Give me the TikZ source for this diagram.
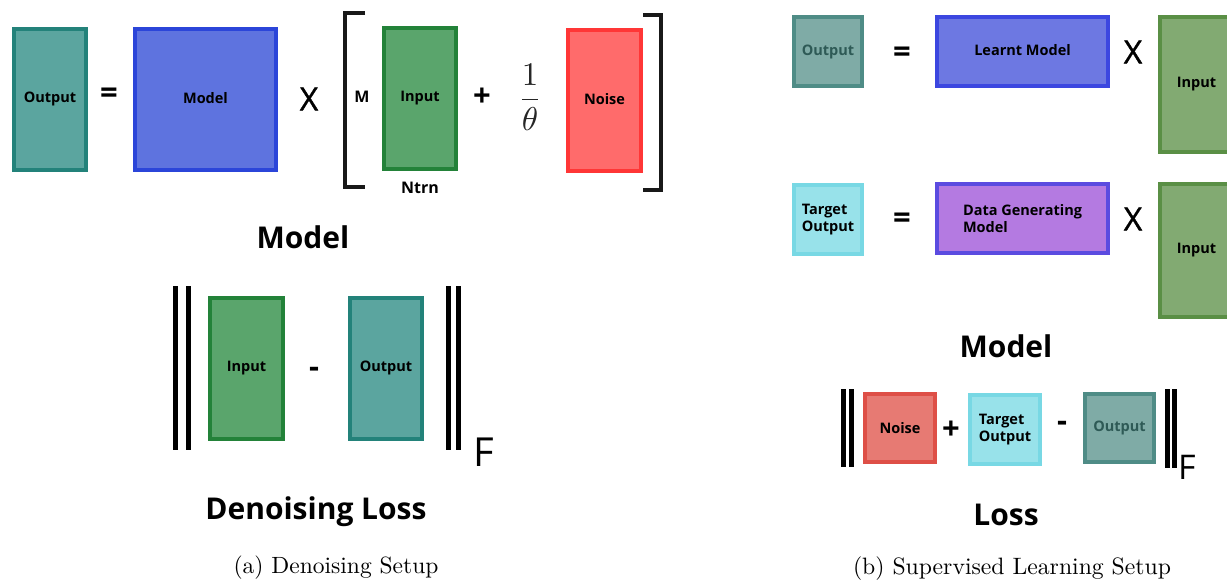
\documentclass[tikz,border=0pt]{standalone}
\usepackage{fontspec}
\usepackage{graphicx}
\newfontfamily\os{Open Sans}
\newfontfamily\osm[FakeBold=1.2]{Open Sans}
\definecolor{tealF}{HTML}{5BA59F}\definecolor{tealD}{HTML}{23827A}
\definecolor{blueF}{HTML}{5E73DF}\definecolor{blueD}{HTML}{2B45D9}
\definecolor{grnF}{HTML}{5AA56C}\definecolor{grnD}{HTML}{238239}
\definecolor{redF}{HTML}{FF6B6B}\definecolor{redD}{HTML}{FF3636}
\definecolor{gtealF}{HTML}{7FABA6}\definecolor{gtealD}{HTML}{4F8C86}\definecolor{gtealT}{HTML}{2E5A56}
\definecolor{lblueF}{HTML}{6D78E2}\definecolor{lblueD}{HTML}{3C47E0}
\definecolor{olivF}{HTML}{82AA72}\definecolor{olivD}{HTML}{5A8F45}
\definecolor{cyanF}{HTML}{98E2EA}\definecolor{cyanD}{HTML}{78D8E4}
\definecolor{purpF}{HTML}{B47AE1}\definecolor{purpD}{HTML}{5B4BE0}
\definecolor{salF}{HTML}{E77A73}\definecolor{salD}{HTML}{DE4F47}
\tikzset{
  box/.style={draw, line width=4pt, inner sep=0pt, align=center,
    font=\os\bfseries\fontsize{14.5}{16.5}\selectfont},
  symtxt/.style={inner sep=0pt, font=\os\bfseries\fontsize{31}{32}\selectfont},
  xtxt/.style={inner sep=0pt, font=\osm\fontsize{32}{32}\selectfont},
  titletxt/.style={inner sep=0pt, font=\os\bfseries\fontsize{30}{32}\selectfont},
  captxt/.style={inner sep=0pt},
  smalltxt/.style={inner sep=0pt, font=\os\bfseries\fontsize{16}{18}\selectfont},
  normbar/.style={line width=5pt, black},
  brk/.style={line width=4pt, black!90}
}
\newcommand{\up}[1]{\raisebox{4pt}{#1}}
\begin{document}
\begin{tikzpicture}[x=1pt,y=-1pt]
\useasboundingbox (0,0) rectangle (1227,581);
\clip (0,0) rectangle (1227,581);
% ---------- (a) ----------
\node[box, fill=tealF, draw=tealD, minimum width=72pt, minimum height=141pt] (aout) at (50,99.5) {\up{Output}};
\node[symtxt] (aeq) at (109,96) {=};
\node[box, fill=blueF, draw=blueD, minimum width=141pt, minimum height=141pt] (amod) at (205.5,99.5) {\up{Model}};
\node[xtxt] (ax) at (309,99) {X};
\draw[brk] (365,13) -- (345,13) -- (345,187) -- (365,187);
\node[smalltxt] (am) at (362,97) {M};
\node[box, fill=grnF, draw=grnD, minimum width=72pt, minimum height=141pt] (ain) at (420,98.5) {\up{Input}};
\node[smalltxt] (antrn) at (420,188) {Ntrn};
\node[symtxt] (aplus) at (482,97) {+};
\node[inner sep=0pt, text=black!85] (afrac) at (530,97) {\scalebox{3.3}{$\displaystyle\frac{1}{\theta}$}};
\node[box, fill=redF, draw=redD, minimum width=73pt, minimum height=141pt] (anoise) at (604.5,100.5) {\up{Noise}};
\draw[brk] (643,15) -- (661,15) -- (661,190) -- (643,190);
\node[titletxt] (amodel) at (303,237) {Model};
\draw[normbar] (175.5,286) -- (175.5,450);
\draw[normbar] (188.5,286) -- (188.5,450);
\node[box, fill=grnF, draw=grnD, minimum width=73pt, minimum height=141pt] (ain2) at (246.5,368.5) {\up{Input}};
\node[symtxt] (aminus) at (314,372) {-};
\node[box, fill=tealF, draw=tealD, minimum width=72pt, minimum height=141pt] (aout2) at (386,368.5) {\up{Output}};
\draw[normbar] (448,286) -- (448,450);
\draw[normbar] (458.5,286) -- (458.5,450);
\node[inner sep=0pt, font=\os\fontsize{40}{40}\selectfont] (af) at (484,452) {F};
\node[titletxt] (aloss) at (316,512) {Denoising Loss};
\node[captxt] (acap) at (336,568) {\scalebox{2.35}{(a) Denoising Setup}};
% ---------- (b) ----------
\node[box, fill=gtealF, draw=gtealD, text=gtealT, minimum width=68pt, minimum height=69pt] (bout) at (828,51.5) {Output};
\node[symtxt] (beq1) at (902,55) {=};
\node[box, fill=lblueF, draw=lblueD, minimum width=171pt, minimum height=69pt] (blm) at (1022.5,51.5) {\raisebox{3pt}{Learnt Model}};
\node[xtxt] (bx1) at (1133,52) {X};
\node[box, fill=olivF, draw=olivD, minimum width=73pt, minimum height=135pt] (bin1) at (1196.5,84.5) {\up{Input}};
\node[box, fill=cyanF, draw=cyanD, align=left, minimum width=68pt, minimum height=69pt] (btgt) at (828,219.5) {Target\\Output};
\node[symtxt] (beq2) at (902,221) {=};
\node[box, fill=purpF, draw=purpD, align=left, minimum width=171pt, minimum height=69pt] (bdg) at (1022.5,218.5) {Data Generating\\Model};
\node[xtxt] (bx2) at (1133,219) {X};
\node[box, fill=olivF, draw=olivD, minimum width=73pt, minimum height=133pt] (bin2) at (1196.5,250.5) {\up{Input}};
\node[titletxt] (bmodel) at (1006,346) {Model};
\draw[normbar] (843.5,389) -- (843.5,467);
\draw[normbar] (851,389) -- (851,467);
\node[box, fill=salF, draw=salD, minimum width=70pt, minimum height=68pt] (bnoise) at (900,428) {Noise};
\node[symtxt] (bplus) at (951,430) {+};
\node[box, fill=cyanF, draw=cyanD, align=left, minimum width=70pt, minimum height=69pt] (btgt2) at (1005,429.5) {Target\\Output};
\node[symtxt] (bminus) at (1062,426) {-};
\node[box, fill=gtealF, draw=gtealD, text=gtealT, minimum width=69pt, minimum height=68pt] (bout2) at (1119.5,428) {Output};
\draw[normbar] (1167.5,389) -- (1167.5,468);
\draw[normbar] (1174.5,389) -- (1174.5,468);
\node[inner sep=0pt, font=\os\fontsize{34}{34}\selectfont] (bf) at (1187,467) {F};
\node[titletxt] (bloss) at (1006,515) {Loss};
\node[captxt] (bcap) at (1012,569) {\scalebox{2.37}{(b) Supervised Learning Setup}};
\end{tikzpicture}
\end{document}
